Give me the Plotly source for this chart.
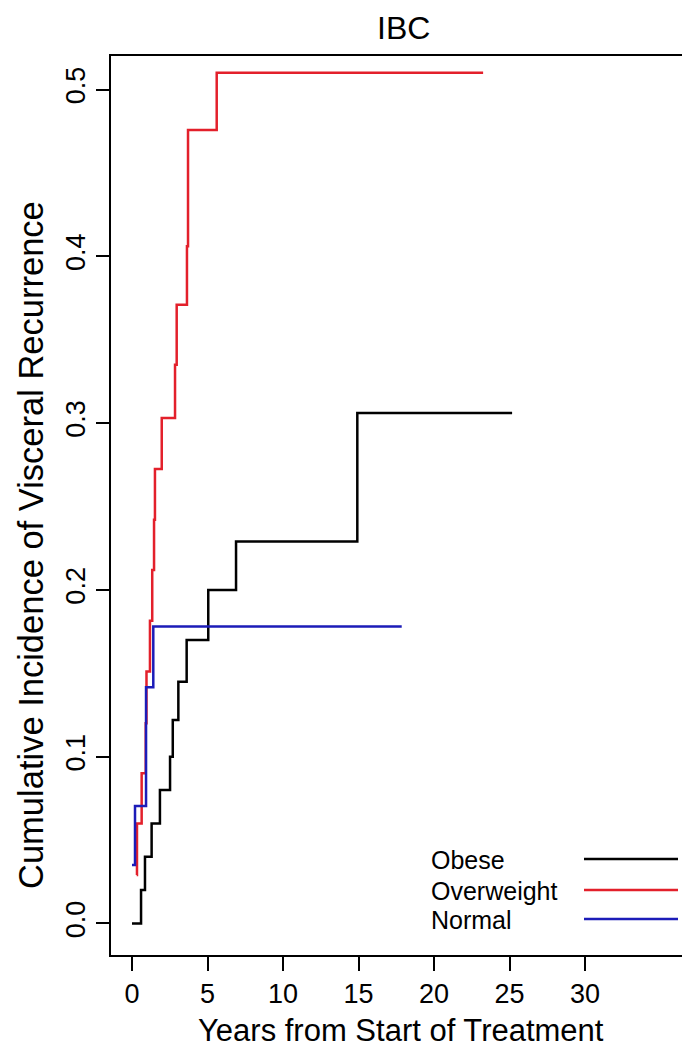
import plotly.graph_objects as go

# ---- data ----
obese_t = [0, 0.6, 0.86, 1.30, 1.85, 2.52, 2.70, 3.07, 3.62, 5.05, 6.89, 14.92, 25.17]
obese_v = [0, 0.02, 0.04, 0.06, 0.08, 0.10, 0.122, 0.145, 0.17, 0.20, 0.229, 0.306, 0.306]

over_t = [0.31, 0.33, 0.64, 0.91, 0.96, 1.19, 1.34, 1.46, 1.52, 1.97, 2.85, 2.96, 3.64, 3.71, 5.61, 23.25]
over_v = [0.029, 0.06, 0.09, 0.12, 0.151, 0.1815, 0.212, 0.242, 0.2725, 0.303, 0.335, 0.371,
          0.406, 0.4757, 0.510, 0.510]

norm_t = [0, 0.2, 0.93, 1.41, 17.86]
norm_v = [0.035, 0.0705, 0.1416, 0.178, 0.178]

x_ticks = [0, 5, 10, 15, 20, 25, 30]
y_ticks = [0.0, 0.1, 0.2, 0.3, 0.4, 0.5]
y_ticklabels = ["0.0", "0.1", "0.2", "0.3", "0.4", "0.5"]
legend_names = ["Obese", "Overweight", "Normal"]

BLACK = "#000000"
RED = "#E3202B"
BLUE = "#1C1CB8"
FONT = "Liberation Sans, Arial, sans-serif"

W, H = 682, 1055
L, R, T, B = 111, 0, 56, 100
PW, PH = W - L - R, H - T - B


def px_x(p):
    return (p - L) / PW


def px_y(p):
    return (H - B - p) / PH


fig = go.Figure()
for t, v, c, n in [(obese_t, obese_v, BLACK, legend_names[0]),
                   (over_t, over_v, RED, legend_names[1]),
                   (norm_t, norm_v, BLUE, legend_names[2])]:
    fig.add_trace(go.Scatter(x=t, y=v, mode="lines", line=dict(shape="hv", color=c, width=2.5),
                             name=n, showlegend=False))

annotations = [
    dict(text="IBC", x=px_x(403), y=px_y(28), xref="paper", yref="paper", showarrow=False,
         font=dict(size=32, color="black", family=FONT), xanchor="center", yanchor="middle"),
    dict(text="Years from Start of Treatment", x=px_x(401), y=px_y(1030), xref="paper", yref="paper",
         showarrow=False, font=dict(size=31, color="black", family=FONT), xanchor="center", yanchor="middle"),
    dict(text="Cumulative Incidence of Visceral Recurrence", x=px_x(31), y=px_y(545), xref="paper",
         yref="paper", showarrow=False, textangle=-90, font=dict(size=34.5, color="black", family=FONT),
         xanchor="center", yanchor="middle"),
]
shapes = []
leg_y = [860, 891, 920]
for name, c, yy in zip(legend_names, [BLACK, RED, BLUE], leg_y):
    annotations.append(dict(text=name, x=px_x(429), y=px_y(yy), xref="paper", yref="paper",
                            showarrow=False, xanchor="left", yanchor="middle",
                            font=dict(size=25, color="black", family=FONT)))
    shapes.append(dict(type="line", xref="paper", yref="paper", x0=px_x(584), x1=px_x(678),
                       y0=px_y(yy - 1), y1=px_y(yy - 1), line=dict(color=c, width=2.5)))

fig.update_layout(
    width=W, height=H, autosize=False,
    margin=dict(l=L, r=R, t=T, b=B, pad=0),
    paper_bgcolor="white", plot_bgcolor="white",
    font=dict(family=FONT, color="black"),
    annotations=annotations, shapes=shapes,
    showlegend=False,
)
fig.update_xaxes(range=[-1.39, 36.42], tickvals=x_ticks, ticks="outside", ticklen=14, tickwidth=2,
                 tickcolor="black", showline=True, linewidth=2, linecolor="black", mirror=True,
                 showgrid=False, zeroline=False, tickfont=dict(size=27, family=FONT, color="black"))
fig.update_yaxes(range=[-0.0189, 0.5201], tickvals=y_ticks, ticktext=y_ticklabels, tickangle=-90,
                 ticks="outside", ticklen=13, tickwidth=2, tickcolor="black", showline=True, linewidth=2,
                 linecolor="black", mirror=False, showgrid=False, zeroline=False,
                 tickfont=dict(size=27, family=FONT, color="black"))

fig.write_html("out.html")
